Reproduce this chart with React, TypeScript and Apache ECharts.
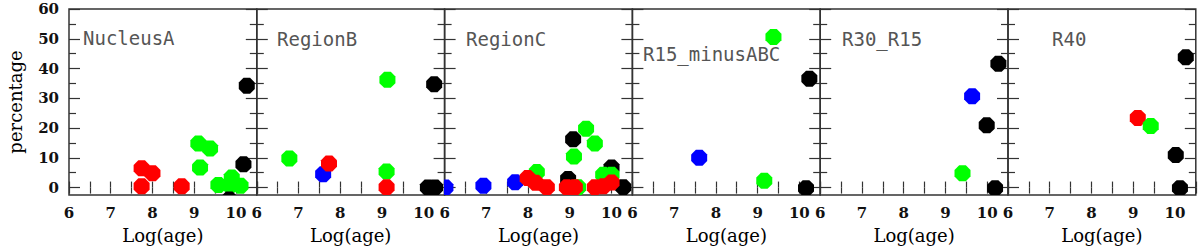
import React, { useEffect, useRef } from "react";
import * as echarts from "echarts";

// colour codes
const K = 0, R = 1, G = 2, B = 3;
const colorOf = ["#000000", "#ff0000", "#00ff00", "#0000ff"];

const panelNames = ["NucleusA", "RegionB", "RegionC", "R15_minusABC", "R30_R15", "R40"];

// [log(age), percentage, colour code] in drawing order
const nucleusA = [
  [7.74, 6.5, R], [8.0, 4.8, R], [7.74, 0.4, R], [8.7, 0.4, R],
  [9.1, 14.8, G], [9.38, 13.1, G], [9.14, 6.7, G], [9.58, 0.9, G], [9.86, 0.6, G], [9.9, 3.4, G], [10.11, 0.6, G],
  [10.26, 34.2, K], [10.18, 7.8, K], [9.84, -4, K],
];
const regionB = [
  [6.78, 9.8, G], [9.13, 36.2, G], [9.11, 5.4, G],
  [7.59, 4.5, B],
  [7.73, 8.1, R], [9.11, 0.1, R],
  [10.25, 34.7, K], [10.1, 0, K], [10.27, 0, K],
];
const regionC = [
  [9.08, 16.2, K], [8.96, 2.9, K], [10.0, 6.7, K], [10.28, 0.1, K],
  [8.21, 5.2, G], [9.39, 19.8, G], [9.6, 14.8, G], [9.1, 10.4, G], [9.2, 0.1, G], [9.8, 4.3, G], [10.0, 4.3, G],
  [6.02, 0, B], [6.93, 0.6, B], [7.69, 1.8, B],
  [7.99, 3.2, R], [8.18, 1.6, R], [8.45, 0.1, R], [8.93, 0.1, R], [9.12, 0.1, R], [9.6, 0.1, R], [9.8, 0.4, R], [10.0, 1.7, R],
];
const r15MinusABC = [
  [10.24, 36.6, K], [10.16, -0.2, K],
  [9.38, 50.6, G], [9.16, 2.3, G],
  [7.6, 10.0, B],
];
const r30R15 = [
  [10.27, 41.6, K], [9.99, 20.9, K], [10.19, -0.2, K],
  [9.64, 30.7, B],
  [9.41, 4.8, G],
];
const r40 = [
  [9.11, 23.4, R],
  [9.42, 20.7, G],
  [10.26, 43.8, K], [10.02, 10.9, K], [10.12, -0.2, K],
];
const panelData = [nucleusA, regionB, regionC, r15MinusABC, r30R15, r40];

const xMin = 6, xMax = 10.5, xStep = 0.5;
const xLabels = [6, 7, 8, 9, 10];
const yMin = -2.5, yMax = 60;
const yMajor = [0, 10, 20, 30, 40, 50, 60];
const yMinor = [5, 15, 25, 35, 45, 55];

// layout
const gridLeft0 = 69, gridW = 187.8, gridTop = 9, gridH = 188;
const labelPos = [
  [83, 38], [277, 39], [466, 39], [643, 54], [842, 39], [1052, 39],
];

const serif = "DejaVu Serif";
const axisColor = "#333";

export default function App() {
  const ref = useRef<HTMLDivElement>(null);
  useEffect(() => {
    if (!ref.current) return;
    const chart = echarts.init(ref.current, null, { renderer: "svg" });
    const grids: any[] = [];
    const xAxes: any[] = [];
    const yAxes: any[] = [];
    const series: any[] = [];
    const graphics: any[] = [];

    panelData.forEach((data, k) => {
      grids.push({
        left: gridLeft0 + gridW * k, top: gridTop, width: gridW, height: gridH,
        show: true, borderColor: axisColor, borderWidth: 1.5, backgroundColor: "transparent",
      });
      const xBase = {
        type: "value", gridIndex: k, min: xMin, max: xMax, interval: xStep,
        axisLine: { show: false }, splitLine: { show: false },
        axisTick: { inside: true, length: 6, lineStyle: { color: axisColor, width: 1.2 } },
      };
      xAxes.push({
        ...xBase, position: "bottom",
        axisLabel: { customValues: xLabels, margin: 10, fontFamily: serif, fontSize: 15, fontWeight: "bold", color: "#111" },
        name: "Log(age)", nameLocation: "middle", nameGap: 31,
        nameTextStyle: { fontFamily: serif, fontSize: 18, color: "#000" },
      });
      xAxes.push({ ...xBase, position: "top", axisLabel: { show: false } });
      const yBase = {
        type: "value", gridIndex: k, min: yMin, max: yMax,
        axisLine: { show: false }, splitLine: { show: false },
      };
      ["left", "right"].forEach((pos) => {
        yAxes.push({
          ...yBase, position: pos,
          axisTick: { inside: true, length: 11, customValues: yMajor, lineStyle: { color: axisColor, width: 1.2 } },
          axisLabel: {
            show: k === 0 && pos === "left", customValues: yMajor, margin: 10,
            fontFamily: serif, fontSize: 15, fontWeight: "bold", color: "#111",
          },
        });
        yAxes.push({
          ...yBase, position: pos,
          axisTick: { inside: true, length: 7, customValues: yMinor, lineStyle: { color: axisColor, width: 1.2 } },
          axisLabel: { show: false },
        });
      });
      series.push({
        type: "custom",
        xAxisIndex: 2 * k, yAxisIndex: 4 * k,
        clip: true,
        dimensions: ["x", "y", "c"],
        encode: { x: 0, y: 1 },
        data,
        renderItem: (params: any, api: any) => {
          const p = api.coord([api.value(0), api.value(1)]);
          const r = 8.66;
          const pts: number[][] = [];
          for (let i = 0; i < 8; i++) {
            const a = Math.PI / 8 + (i * Math.PI) / 4;
            pts.push([p[0] + r * Math.cos(a), p[1] + r * Math.sin(a)]);
          }
          return { type: "polygon", shape: { points: pts }, style: { fill: colorOf[api.value(2)] } };
        },
      });
      graphics.push({
        type: "text", x: labelPos[k][0], y: labelPos[k][1],
        style: {
          text: panelNames[k], fontFamily: "DejaVu Sans Mono", fontSize: 19, fill: "#555",
          align: "left", verticalAlign: "middle",
        },
      });
    });

    graphics.push({
      type: "text", x: 15, y: 102, rotation: Math.PI / 2,
      style: { text: "percentage", fontFamily: serif, fontSize: 18, fill: "#000", align: "center", verticalAlign: "middle" },
    });

    chart.setOption({
      animation: false,
      backgroundColor: "#fff",
      grid: grids,
      xAxis: xAxes,
      yAxis: yAxes,
      series,
      graphic: graphics,
    });
    return () => chart.dispose();
  }, []);
  return <div ref={ref} style={{ position: "fixed", left: 0, top: 0, width: 1200, height: 249 }} />;
}
